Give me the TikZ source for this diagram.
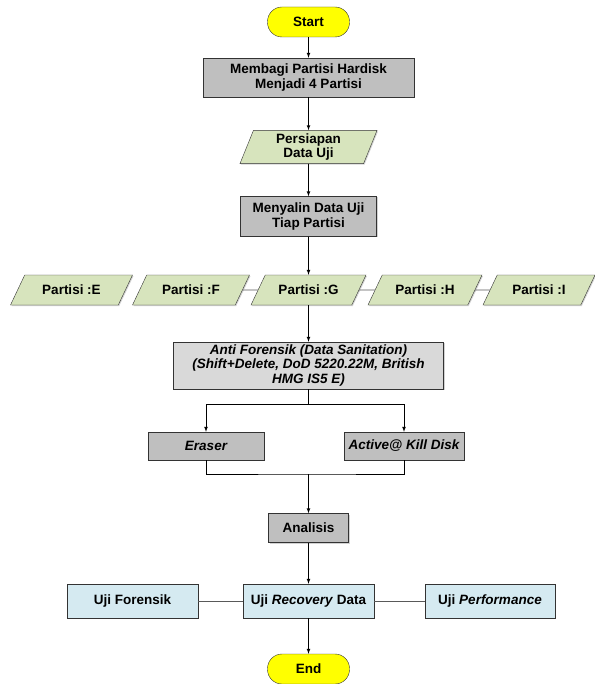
\documentclass[tikz,border=0pt]{standalone}
\usepackage{fontspec}
\setmainfont{Liberation Sans}
\usetikzlibrary{shapes.geometric,shadows}

\definecolor{kuning}{HTML}{FFFF00}
\definecolor{hijau}{HTML}{D7E4BD}
\definecolor{biru}{HTML}{D5EAF1}

\begin{document}
\begin{tikzpicture}[
  x=1pt, y=-1pt,
  font=\fontsize{13.5}{14.6}\selectfont\bfseries,
  terminal/.style={draw=black!80, fill=kuning, rounded corners=14.5pt, minimum width=82pt, minimum height=30pt, inner sep=1pt},
  proses/.style={draw=black!80, fill=gray!50, align=center, inner sep=2pt, drop shadow={shadow xshift=1pt, shadow yshift=-1pt, fill=gray!70}},
  prosesB/.style={proses, fill=gray!30},
  datain/.style={draw=black!80, fill=hijau, trapezium, trapezium left angle=63, trapezium right angle=117, minimum height=30pt, minimum width=116pt, trapezium stretches body, align=center, inner xsep=1pt, inner ysep=9pt, drop shadow={shadow xshift=1pt, shadow yshift=-1pt, fill=gray!70}},
  uji/.style={draw=black!80, fill=biru, minimum width=131pt, minimum height=34pt, inner sep=1pt},
  arr/.style={-latex, line width=0.7pt},
  link/.style={line width=0.9pt, gray!70!black},
]

\useasboundingbox (0,0) rectangle (594,684);

% ---------- posisi ----------
\def\xm{308.5}   % garis tengah
\def\yP{290}     % baris partisi
\def\yU{601}     % baris uji

% =====================================================
% ALUR ATAS
% =====================================================
\node[terminal] (start) at (\xm,22) {Start};
\node[proses, minimum width=211pt, minimum height=39pt] (bagi) at (\xm,77.5)
  {Membagi Partisi Hardisk\\Menjadi 4 Partisi};
\node[datain, minimum width=137pt, minimum height=32pt, inner ysep=3pt, trapezium left angle=68, trapezium right angle=112] (siap) at (\xm,147)
  {Persiapan\\Data Uji};
\node[proses, minimum width=136pt, minimum height=40pt] (salin) at (\xm,216.5)
  {Menyalin Data Uji\\Tiap Partisi};

% =====================================================
% PARTISI E - I
% =====================================================
\node[datain, minimum width=122pt] (pE) at (71.5,\yP) {Partisi :E};
\node[datain, minimum width=117pt] (pF) at (191,\yP)  {Partisi :F};
\node[datain, minimum width=115pt] (pG) at (\xm,\yP)  {Partisi :G};
\node[datain, minimum width=114pt] (pH) at (425,\yP)  {Partisi :H};
\node[datain, minimum width=112pt] (pI) at (539,\yP)  {Partisi :I};

% =====================================================
% ANTI FORENSIK
% =====================================================
\node[prosesB, minimum width=270pt, minimum height=47pt] (anti) at (\xm,365.5)
  {\itshape Anti Forensik (Data Sanitation)\\\itshape (Shift+Delete, DoD 5220.22M, British\\\itshape HMG IS5 E)};
\coordinate (cabang) at (\xm,404);

\node[proses, minimum width=116pt, minimum height=28pt] (eraser) at (206,446) {\itshape Eraser};
\node[proses, minimum width=120pt, minimum height=28pt] (active) at (404,446) {\itshape Active@ Kill Disk};
\coordinate (gabung) at (\xm,474);

\node[proses, minimum width=80pt, minimum height=29pt] (analisis) at (\xm,528) {Analisis};

% =====================================================
% UJI
% =====================================================
\node[uji] (forensik) at (132.5,\yU) {Uji Forensik};
\node[uji] (recovery) at (\xm,\yU) {Uji \textit{Recovery} Data};
\node[uji, minimum width=130pt] (perform) at (490,\yU) {Uji \textit{Performance}};

\node[terminal] (end) at (\xm,669) {End};

% ---------- penghubung ----------
\draw[arr] (start) -- (bagi);
\draw[arr] (bagi) -- (siap);
\draw[arr] (siap) -- (salin);
\draw[arr] (salin) -- (pG);

\draw[link] (pF) -- (pG);
\draw[link] (pG) -- (pH);
\draw[link] (pH) -- (pI);

\draw[arr] (pG) -- (anti);
\draw[line width=0.7pt] (anti) -- (cabang);
\draw[arr] (cabang) -| (eraser);
\draw[arr] (cabang) -| (active);
\draw[line width=0.7pt] (eraser) |- (gabung) -| (active);
\draw[arr] (gabung) -- (analisis);

\draw[arr] (analisis) -- (recovery);
\draw[link] (forensik) -- (recovery);
\draw[link] (recovery) -- (perform);
\draw[arr] (recovery) -- (end);

\end{tikzpicture}
\end{document}
